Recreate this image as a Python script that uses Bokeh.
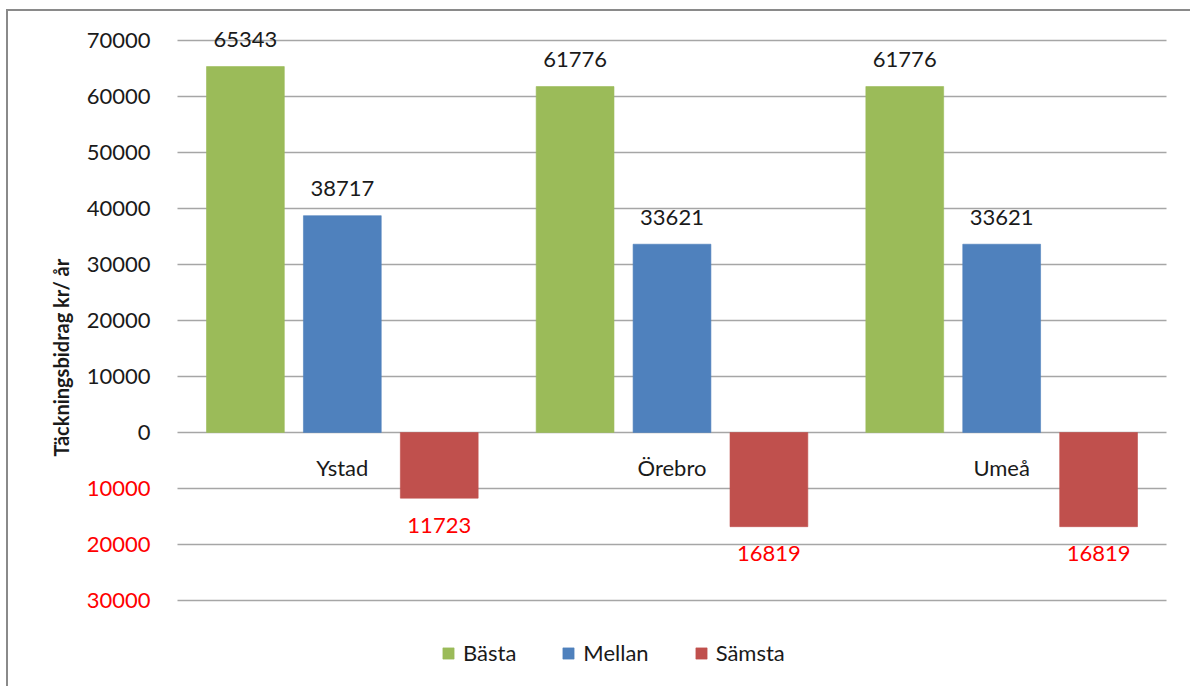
import math
from bokeh.plotting import figure
from bokeh.models import Range1d, Legend, LegendItem, ColumnDataSource
from bokeh.core.properties import value
from bokeh.embed import file_html
from bokeh.resources import INLINE

# ---------------- data ----------------
categories = ["Ystad", "Örebro", "Umeå"]
series_names = ["Bästa", "Mellan", "Sämsta"]
basta = [65343, 61776, 61776]
mellan = [38717, 33621, 33621]
samsta = [-11723, -16819, -16819]
y_ticks = [-30000, -20000, -10000, 0, 10000, 20000, 30000, 40000, 50000, 60000, 70000]
y_title = "Täckningsbidrag kr/ år"

# ---------------- style / layout ----------------
colors = ["#9BBB59", "#4F81BD", "#C0504D"]
FONT = "Lato"
TXT = "#1a1a1a"
NEG = "#FF0000"
GRID = "#A6A6A6"
offsets = [-0.294, 0.0, 0.294]
BAR_W = 0.236

W, H = 1184, 677           # drawing area (after CSS margin + border)
PLOT_LEFT_PX = 169         # from left edge to first category band
PLOT_RIGHT_PX = 26         # from last category band to right edge
CAT_PX = (W - PLOT_LEFT_PX - PLOT_RIGHT_PX) / len(categories)
PX_PER_10K = 56.0
TOP_PX = 29                # from top edge to the highest tick line
BOT_PX = H - TOP_PX - PX_PER_10K * (max(y_ticks) - min(y_ticks)) / 10000
TITLE_HALF_PX = 136        # half the length of the rotated title

n = len(categories)
x_lo = -PLOT_LEFT_PX / CAT_PX
x_hi = n + PLOT_RIGHT_PX / CAT_PX
y_hi = max(y_ticks) + TOP_PX / PX_PER_10K * 10000
y_lo = min(y_ticks) - BOT_PX / PX_PER_10K * 10000

p = figure(width=W, height=H, output_backend="svg", toolbar_location=None,
           x_range=Range1d(x_lo, x_hi), y_range=Range1d(y_lo, y_hi),
           min_border=0)
p.outline_line_color = None
p.background_fill_color = "white"
p.border_fill_color = "white"
p.styles = {"margin-left": "6px", "margin-top": "9px",
            "border-left": "2px solid #8A8A8A",
            "border-top": "2px solid #8A8A8A"}
p.xaxis.visible = False
p.yaxis.visible = False
p.grid.visible = False

# category centres on the numeric x scale
cat_x = [i + 0.5 for i in range(n)]

# grid lines over the category area
p.segment(x0=[0] * len(y_ticks), x1=[n] * len(y_ticks), y0=y_ticks, y1=y_ticks,
          line_color=GRID, line_width=1.5)

# tick labels (negatives in red without minus sign)
tick_src = ColumnDataSource(dict(
    x=[0] * len(y_ticks), y=y_ticks,
    txt=[str(abs(t)) for t in y_ticks],
    col=[TXT if t >= 0 else NEG for t in y_ticks]))
p.text(x="x", y="y", text="txt", text_color="col", source=tick_src,
       x_offset=-27, text_align="right", text_baseline="middle",
       text_font=value(FONT), text_font_size="22px")

# y-axis title (rotated, reading bottom to top, centred on the tick span)
title_mid = (min(y_ticks) + max(y_ticks)) / 2
p.text(x=[0], y=[title_mid - TITLE_HALF_PX / PX_PER_10K * 10000], text=[y_title],
       x_offset=-117, angle=math.pi / 2, text_align="left",
       text_baseline="middle", text_color=TXT, text_font=value(FONT),
       text_font_style="bold", text_font_size="20px")

series = [basta, mellan, samsta]
items = []
for i, (name, vals) in enumerate(zip(series_names, series)):
    xs = [c + offsets[i] for c in cat_x]
    src = ColumnDataSource(dict(
        x=xs, v=vals,
        txt=[str(abs(v)) for v in vals],
        off=[-27 if v >= 0 else 27 for v in vals],
        col=[TXT if v >= 0 else NEG for v in vals]))
    r = p.vbar(x="x", top="v", bottom=0, width=BAR_W, source=src,
               fill_color=colors[i], line_color=colors[i], line_alpha=0.6)
    items.append(LegendItem(label=name, renderers=[r]))
    p.text(x="x", y="v", text="txt", y_offset="off", text_color="col",
           source=src, text_align="center", text_baseline="middle",
           text_font=value(FONT), text_font_size="22px")

# category labels next to the zero line
p.text(x=cat_x, y=[0] * n, text=categories, y_offset=35,
       text_align="center", text_baseline="middle", text_color=TXT,
       text_font=value(FONT), text_font_size="22px")

legend = Legend(items=items, location=(433, 22), orientation="horizontal",
                glyph_width=14, glyph_height=14, label_standoff=8, spacing=45,
                padding=0, margin=0, border_line_color=None,
                background_fill_alpha=0, label_text_font=FONT,
                label_text_font_size="22px", label_text_color=TXT)
p.add_layout(legend)

open("out.html", "w").write(file_html(p, INLINE))
